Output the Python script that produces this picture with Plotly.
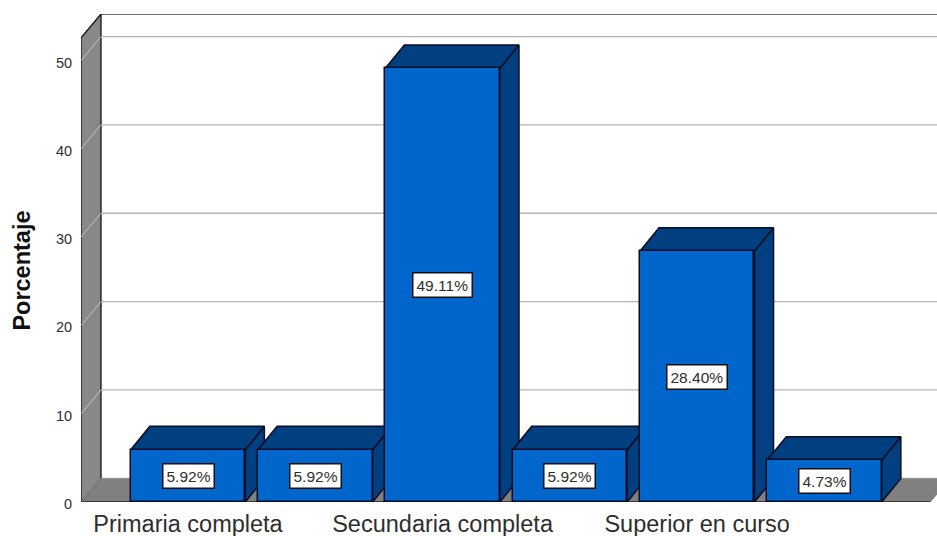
import plotly.graph_objects as go

# Data
bar_positions = [0, 1, 2, 3, 4, 5]
percentages = [5.92, 5.92, 49.11, 5.92, 28.40, 4.73]
label_positions = [0, 2, 4]
category_labels = ["Primaria completa", "Secundaria completa", "Superior en curso"]
y_ticks = [0, 10, 20, 30, 40, 50]

# Axis frame
X_RANGE = [-0.8406, 5.884]
Y_RANGE = [0, 55.26]
BAR_WIDTH = 0.9
BAR_DX, BAR_DY = 0.15, 2.65
WALL_DX, WALL_DY = 0.157, 2.7
WALL_LEFT, FAR_RIGHT = X_RANGE[0], 5.833

FRONT = "#0066cc"
DARK = "#003f80"
EDGE = "#0b0b24"
WALL = "#888888"
FLOOR = "#808080"
GRID = "#b5b5b5"
TEXT = "#2e2e2e"

fig = go.Figure()


def polygon(xs, ys, fill, line=EDGE, width=1.5):
    fig.add_trace(go.Scatter(
        x=xs + xs[:1], y=ys + ys[:1], mode="lines", fill="toself", fillcolor=fill,
        line=dict(color=line, width=width), hoverinfo="skip", showlegend=False,
        cliponaxis=False,
    ))


def polyline(xs, ys, color, width):
    fig.add_trace(go.Scatter(
        x=xs, y=ys, mode="lines", line=dict(color=color, width=width),
        hoverinfo="skip", showlegend=False, cliponaxis=False,
    ))


back_left = WALL_LEFT + WALL_DX

# Floor and left wall
polygon([WALL_LEFT, back_left, FAR_RIGHT + WALL_DX, FAR_RIGHT],
        [0, WALL_DY, WALL_DY, 0], FLOOR, line=FLOOR, width=0.5)
polygon([WALL_LEFT, WALL_LEFT, back_left, back_left],
        [0, Y_RANGE[1] - WALL_DY, Y_RANGE[1], WALL_DY], WALL, line="#111111", width=1.3)

# Gridlines on the back and on the wall
for v in y_ticks[1:]:
    polyline([back_left, X_RANGE[1]], [v + WALL_DY, v + WALL_DY], GRID, 1.3)
    polyline([WALL_LEFT, back_left], [v, v + WALL_DY], "#c4c4c4", 1)
polyline([WALL_LEFT, back_left], [0, WALL_DY], "#c4c4c4", 1)
polyline([back_left, X_RANGE[1]], [Y_RANGE[1], Y_RANGE[1]], "#3a3a3a", 1.3)
polyline([WALL_LEFT, FAR_RIGHT], [0, 0], "#222222", 1.3)

# Depth faces of the bars
half = BAR_WIDTH / 2
for x, v in zip(bar_positions, percentages):
    polygon([x + half, x + half + BAR_DX, x + half + BAR_DX, x + half],
            [0, BAR_DY, v + BAR_DY, v], DARK)
    polygon([x - half, x - half + BAR_DX, x + half + BAR_DX, x + half],
            [v, v + BAR_DY, v + BAR_DY, v], DARK)

# Front faces sit on an overlaying axis pair so they stay above all depth faces
fig.add_trace(go.Bar(
    x=bar_positions, y=percentages, width=BAR_WIDTH, xaxis="x2", yaxis="y2",
    marker=dict(color=FRONT, line=dict(color=EDGE, width=1.5)),
    hoverinfo="skip", showlegend=False,
))

annotations = [
    dict(x=x, y=v / 2, xref="x2", yref="y2", text=f"{v:.2f}%", showarrow=False,
         bgcolor="white", bordercolor="#111111", borderwidth=1.5, borderpad=3,
         font=dict(family="Liberation Sans", size=15.5, color=TEXT))
    for x, v in zip(bar_positions, percentages)
]
annotations.append(dict(
    x=-0.069, y=0.474, xref="paper", yref="paper", text="<b>Porcentaje</b>",
    textangle=-90, showarrow=False, xanchor="center", yanchor="middle",
    font=dict(family="Liberation Sans", size=23.5, color="#111111"),
))

fig.update_layout(
    width=937, height=536,
    margin=dict(l=81, r=0, t=14, b=33.5, autoexpand=False),
    paper_bgcolor="white", plot_bgcolor="white",
    bargap=0,
    annotations=annotations,
    font=dict(family="Liberation Sans", color=TEXT),
    xaxis=dict(
        range=X_RANGE, showgrid=False, zeroline=False, showline=False, automargin=False,
        tickmode="array", tickvals=label_positions, ticktext=category_labels,
        ticks="outside", ticklen=1, tickcolor="rgba(0,0,0,0)",
        tickfont=dict(size=23.5, color=TEXT),
    ),
    yaxis=dict(
        range=Y_RANGE, showgrid=False, zeroline=False, showline=False, automargin=False,
        tickmode="array", tickvals=y_ticks, ticks="outside", ticklen=5,
        tickcolor="rgba(0,0,0,0)", tickfont=dict(size=14.5, color=TEXT),
        ticklabelshift=2,
    ),
    xaxis2=dict(range=X_RANGE, overlaying="x", visible=False),
    yaxis2=dict(range=Y_RANGE, overlaying="y", visible=False),
)

fig.write_html("out.html", config={"displayModeBar": False},
               post_script="document.body.style.margin='0';")
